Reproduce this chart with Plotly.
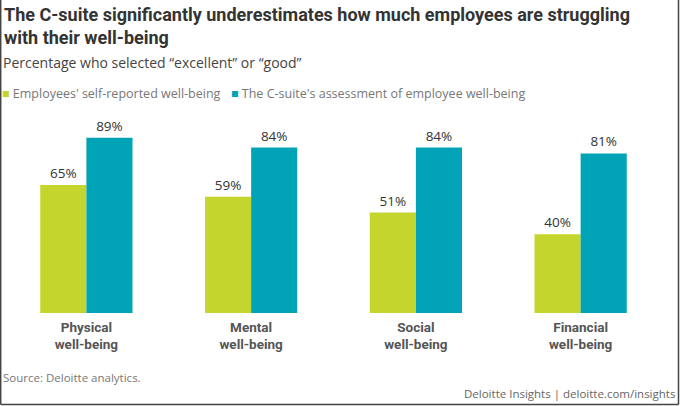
import plotly.graph_objects as go

# chart data
categories = ["Physical<br>well-being", "Mental<br>well-being",
              "Social<br>well-being", "Financial<br>well-being"]
series_names = ["Employees' self-reported well-being",
                "The C-suite's assessment of employee well-being"]
employees = [65, 59, 51, 40]
csuite = [89, 84, 84, 81]

GREEN = "#c4d62e"
TEAL = "#00a4b6"
W, H = 680, 406
L, R, T, B = 4, 17, 116, 93
COND = "Roboto"


# pixel -> paper helpers (for the text placed outside the plot)
def px(x):
    return (x - L) / (W - L - R)


def py(y):
    return (H - B - y) / (H - T - B)


fig = go.Figure()
for name, vals, col in [(series_names[0], employees, GREEN),
                        (series_names[1], csuite, TEAL)]:
    fig.add_trace(go.Bar(
        x=categories, y=vals, name=name, marker_color=col,
        marker_line_width=0,
        text=[f"{v}%" for v in vals], textposition="outside",
        textfont=dict(family="Open Sans", size=13.5, color="#333333"),
        cliponaxis=False, showlegend=False))

fig.update_layout(
    width=W, height=H,
    margin=dict(l=L, r=R, t=T, b=B),
    paper_bgcolor="white", plot_bgcolor="white",
    barmode="group", bargap=0.44, bargroupgap=0,
    font=dict(family="Open Sans", color="#444444"),
    xaxis=dict(range=[-0.5, 3.5], showgrid=False, showline=False,
               ticks="", ticklabelstandoff=4,
               tickfont=dict(family=COND, size=13.5, weight=700,
                             color="#555555"),
               fixedrange=True),
    yaxis=dict(range=[0, 100], visible=False, fixedrange=True),
)

ann = []
ann.append(dict(text="The C-suite significantly underestimates how much employees are struggling"
                     "<br>with their well-being",
                x=px(2), y=py(2), xanchor="left", yanchor="top", align="left",
                font=dict(family=COND, size=18, weight=700, color="#333333")))
ann.append(dict(text="Percentage who selected “excellent” or “good”",
                x=px(1), y=py(51), xanchor="left", yanchor="top",
                font=dict(family="Open Sans", size=14, color="#444444")))
ann.append(dict(text=f"<span style='color:{GREEN}'>■</span> {series_names[0]}",
                x=px(0), y=py(93), xanchor="left", yanchor="middle",
                font=dict(family="Open Sans", size=12.5, color="#777777")))
ann.append(dict(text=f"<span style='color:{TEAL}'>■</span> {series_names[1]}",
                x=px(229), y=py(93), xanchor="left", yanchor="middle",
                font=dict(family="Open Sans", size=12.5, color="#777777")))
ann.append(dict(text="Source: Deloitte analytics.",
                x=px(1), y=py(377), xanchor="left", yanchor="middle",
                font=dict(family="Open Sans", size=11.5, color="#777777")))
ann.append(dict(text="Deloitte Insights | deloitte.com/insights",
                x=px(677), y=py(393), xanchor="right", yanchor="middle",
                font=dict(family="Open Sans", size=11.5, color="#666666")))
for a in ann:
    a.update(xref="paper", yref="paper", showarrow=False)
fig.update_layout(annotations=ann)

# thin screenshot frame: left, right, bottom
frame = dict(type="line", xref="paper", yref="paper",
             line=dict(color="#444444", width=1.5))
fig.update_layout(shapes=[
    dict(frame, x0=px(0.7), x1=px(0.7), y0=py(0), y1=py(404.5)),
    dict(frame, x0=px(678.5), x1=px(678.5), y0=py(0), y1=py(404.5)),
    dict(frame, x0=px(0.7), x1=px(678.5), y0=py(404.5), y1=py(404.5)),
])

# drop the page's default body margin so the figure sits at the window corner
fig.write_html("out.html",
               config={"displayModeBar": False},
               post_script="document.body.style.margin='0';"
                           "document.body.style.overflow='hidden';")
